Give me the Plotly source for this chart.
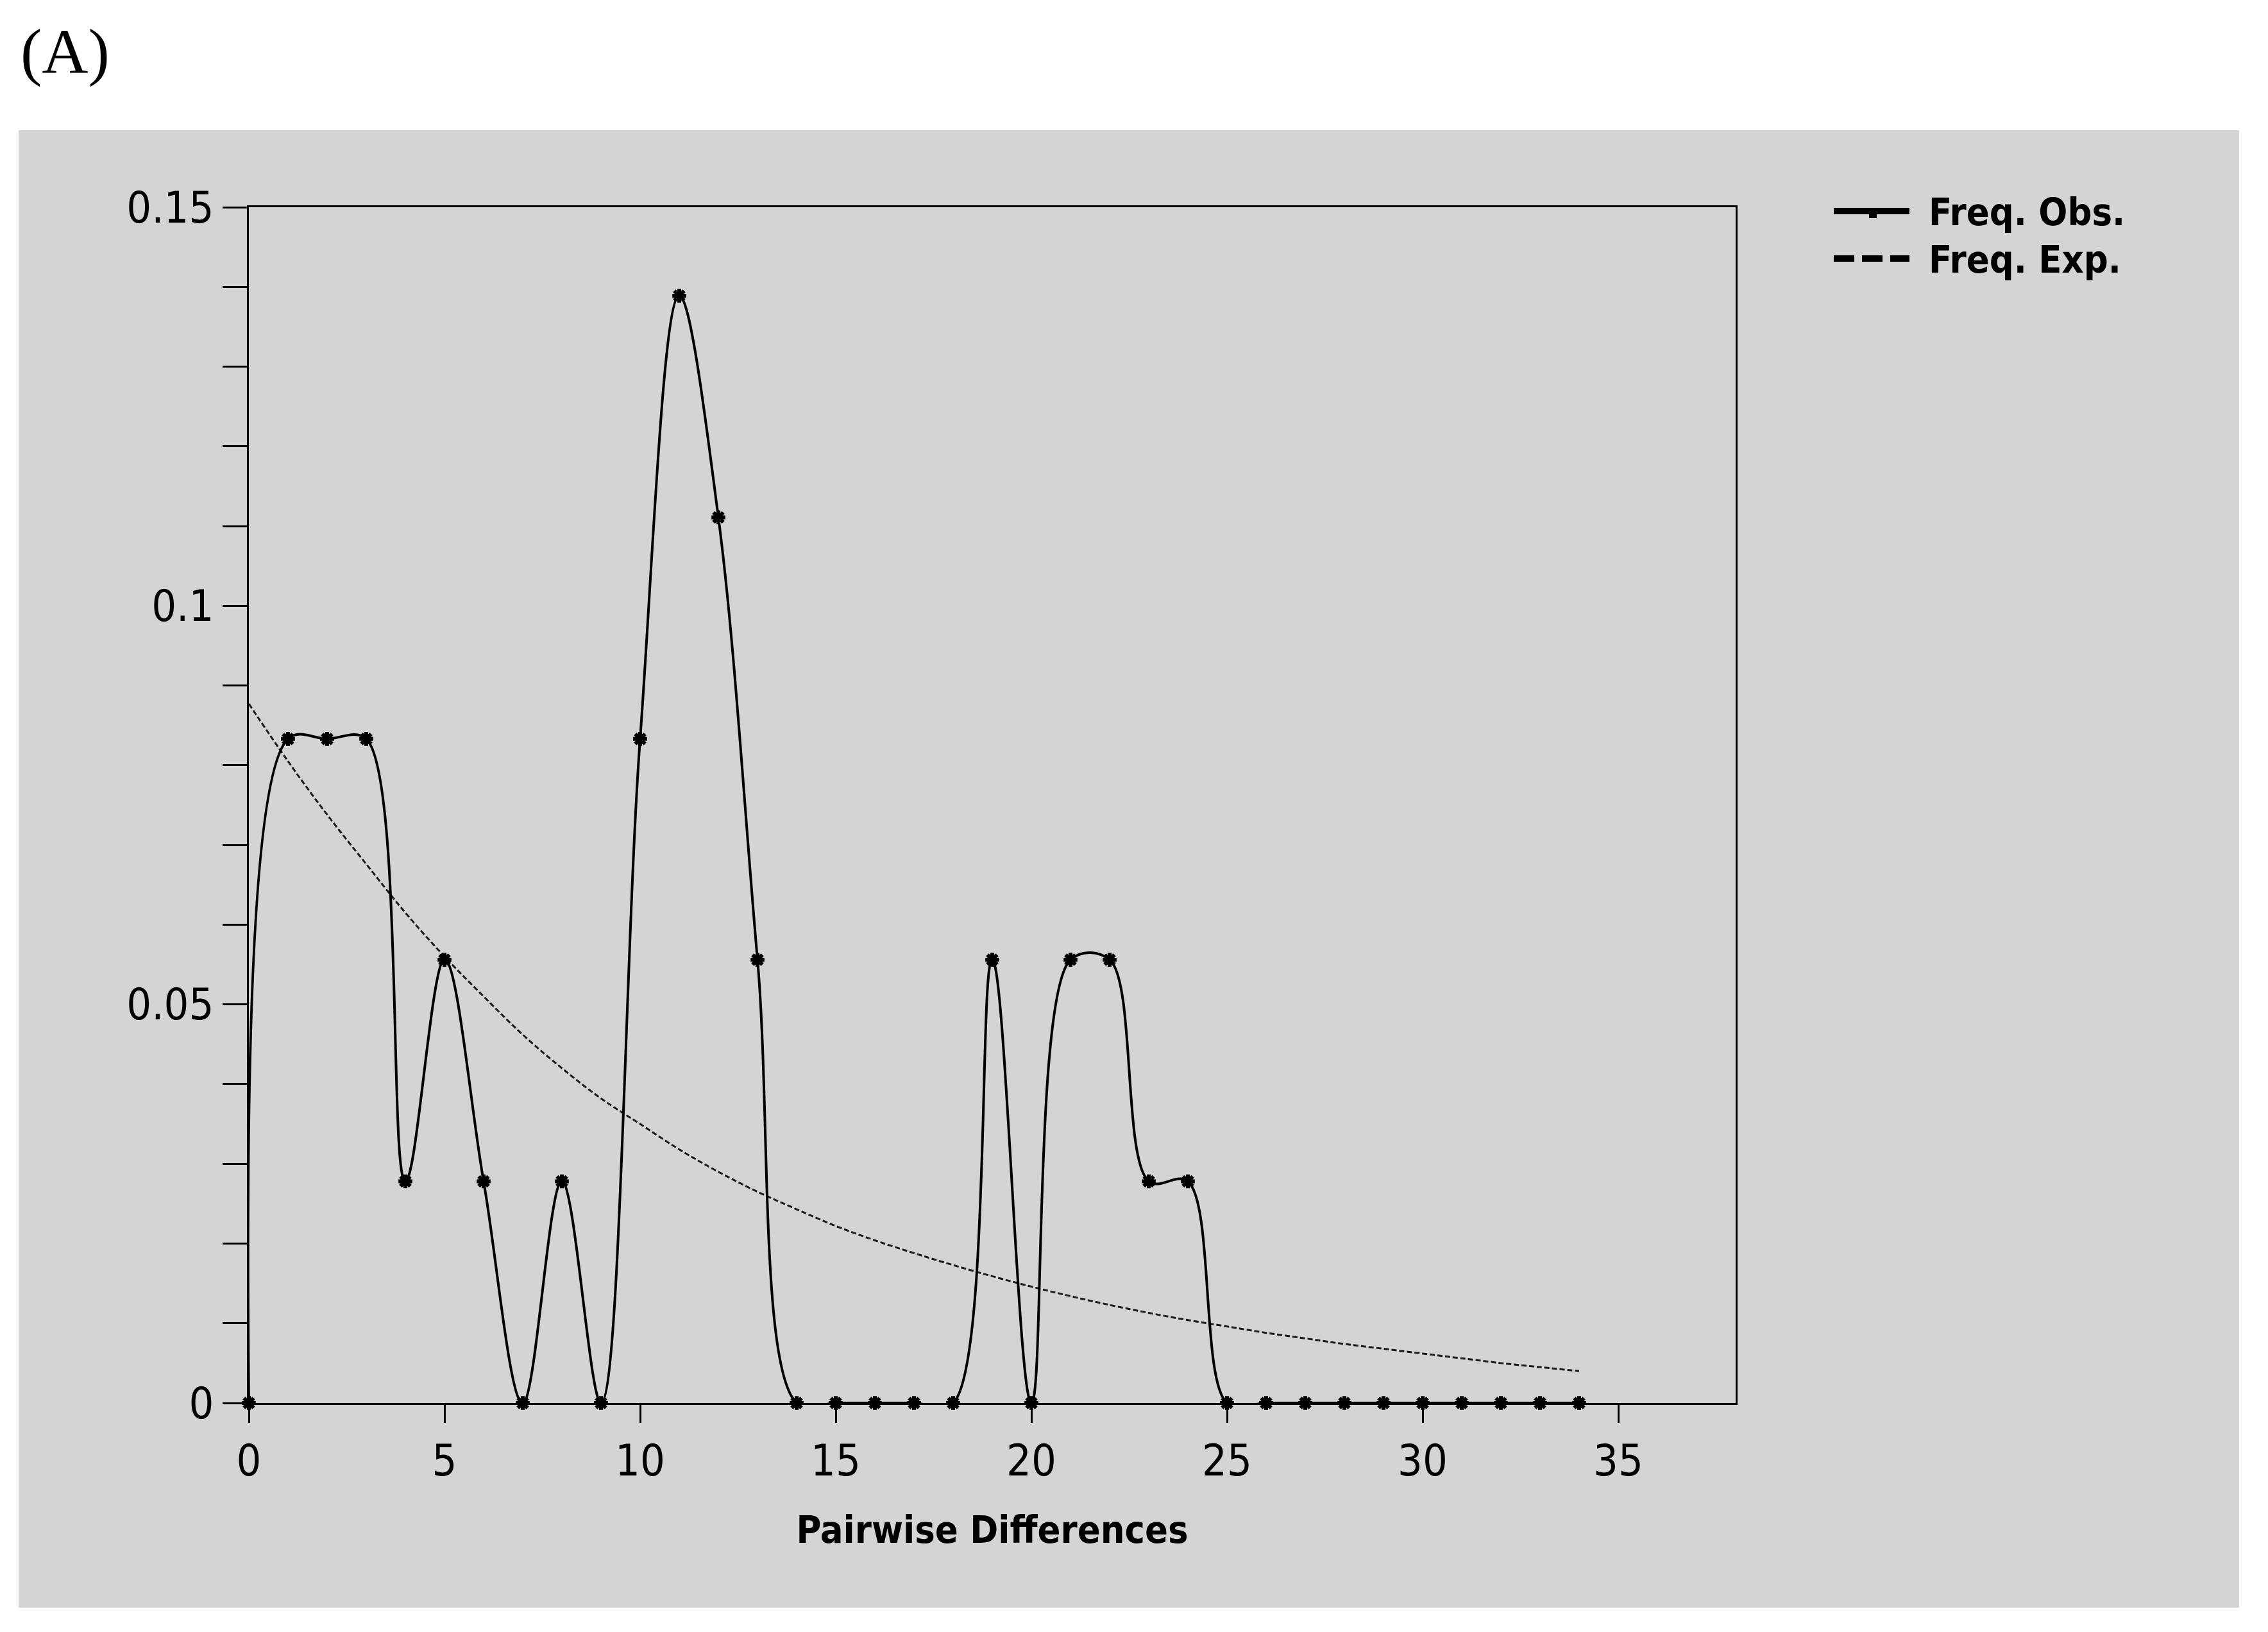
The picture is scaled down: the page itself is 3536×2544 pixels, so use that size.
import plotly.graph_objects as go

# ---- data ----
diffs = list(range(35))
freq_obs = [0, 0.0833, 0.0833, 0.0833, 0.0278, 0.0556, 0.0278, 0, 0.0278, 0,
            0.0833, 0.1389, 0.1111, 0.0556, 0, 0, 0, 0, 0, 0.0556,
            0, 0.0556, 0.0556, 0.0278, 0.0278, 0, 0, 0, 0, 0,
            0, 0, 0, 0, 0]
freq_exp = [0.0877, 0.0805, 0.0738, 0.0676, 0.0615, 0.0560, 0.0510, 0.0462, 0.0420, 0.0382,
            0.0350, 0.0318, 0.0290, 0.0265, 0.0243, 0.0222, 0.0204, 0.0188, 0.0173, 0.0159,
            0.0146, 0.0134, 0.0123, 0.0113, 0.0104, 0.0096, 0.0088, 0.0081, 0.0074, 0.0068,
            0.0062, 0.0056, 0.0050, 0.0045, 0.0040]
x_tickvals = [0, 5, 10, 15, 20, 25, 30, 35]
series_names = ["Freq. Obs.", "Freq. Exp."]
x_title = "Pairwise Differences"
panel_label = "(A)"

W, H = 3536, 2544
OFF = 8  # page body margin
L, R, T, B = 388 - OFF, 2706 - OFF, 323 - OFF, 2187 - OFF
PW, PH = R - L, B - T

def px(x):
    return (x - OFF - L) / PW

def py(y):
    return (B - (y - OFF)) / PH

NARROW = "DejaVu Sans Condensed, Liberation Sans Narrow, Arial Narrow, sans-serif"
GRAY = "#d4d4d4"

fig = go.Figure()
fig.add_trace(go.Scatter(
    x=diffs, y=freq_exp, mode="lines", name=series_names[1],
    line=dict(color="#1a1a1a", width=3, dash="8px,4px", shape="spline", smoothing=1),
    showlegend=False,
))
fig.add_trace(go.Scatter(
    x=diffs, y=freq_obs, mode="lines+markers", name=series_names[0],
    line=dict(color="black", width=4, shape="spline", smoothing=1),
    marker=dict(symbol="asterisk-open", size=18, color="black",
                line=dict(color="black", width=6)),
    cliponaxis=False, showlegend=False,
))

shapes = [
    # gray panel
    dict(type="rect", xref="paper", yref="paper",
         x0=px(29), x1=px(3491), y0=py(2506), y1=py(203),
         fillcolor=GRAY, line=dict(width=0), layer="below"),
    # legend samples
    dict(type="line", xref="paper", yref="paper",
         x0=px(2859), x1=px(2977), y0=py(329), y1=py(329),
         line=dict(color="black", width=10)),
    dict(type="rect", xref="paper", yref="paper",
         x0=px(2914), x1=px(2926), y0=py(340), y1=py(329),
         fillcolor="black", line=dict(width=0)),
    dict(type="line", xref="paper", yref="paper",
         x0=px(2859), x1=px(2977), y0=py(403), y1=py(403),
         line=dict(color="black", width=10, dash="32px,12px")),
]

annotations = [
    dict(text=panel_label, xref="paper", yref="paper", x=px(30), y=py(80),
         xanchor="left", yanchor="middle", showarrow=False,
         font=dict(family="Liberation Serif, Times New Roman, serif", size=100, color="black")),
    dict(text="<b>%s</b>" % series_names[0], xref="paper", yref="paper", x=px(3005), y=py(331),
         xanchor="left", yanchor="middle", showarrow=False,
         font=dict(family=NARROW, size=59, color="black")),
    dict(text="<b>%s</b>" % series_names[1], xref="paper", yref="paper", x=px(3005), y=py(405),
         xanchor="left", yanchor="middle", showarrow=False,
         font=dict(family=NARROW, size=59, color="black")),
]

fig.update_layout(
    width=W, height=H,
    margin=dict(l=L, r=W - R, t=T, b=H - B, pad=0),
    paper_bgcolor="white", plot_bgcolor=GRAY,
    shapes=shapes, annotations=annotations,
    font=dict(family=NARROW, color="black"),
    xaxis=dict(
        range=[0, 38], tickvals=x_tickvals, showgrid=False, zeroline=False,
        showline=True, linecolor="black", linewidth=3, mirror=True,
        ticks="outside", ticklen=28, tickwidth=3, tickcolor="black",
        tickfont=dict(family=NARROW, size=68, color="black"),
        title=dict(text="<b>%s</b>" % x_title, standoff=50,
                   font=dict(family=NARROW, size=59, color="black")),
    ),
    yaxis=dict(
        range=[0, 0.15], dtick=0.05, showgrid=False, zeroline=False,
        showline=True, linecolor="black", linewidth=3, mirror=True,
        ticks="outside", ticklen=38, tickwidth=3, tickcolor="black",
        tickfont=dict(family=NARROW, size=68, color="black"),
        minor=dict(dtick=0.01, ticks="outside", ticklen=38, tickwidth=3,
                   tickcolor="black", showgrid=False),
    ),
)

fig.write_html("out.html")
